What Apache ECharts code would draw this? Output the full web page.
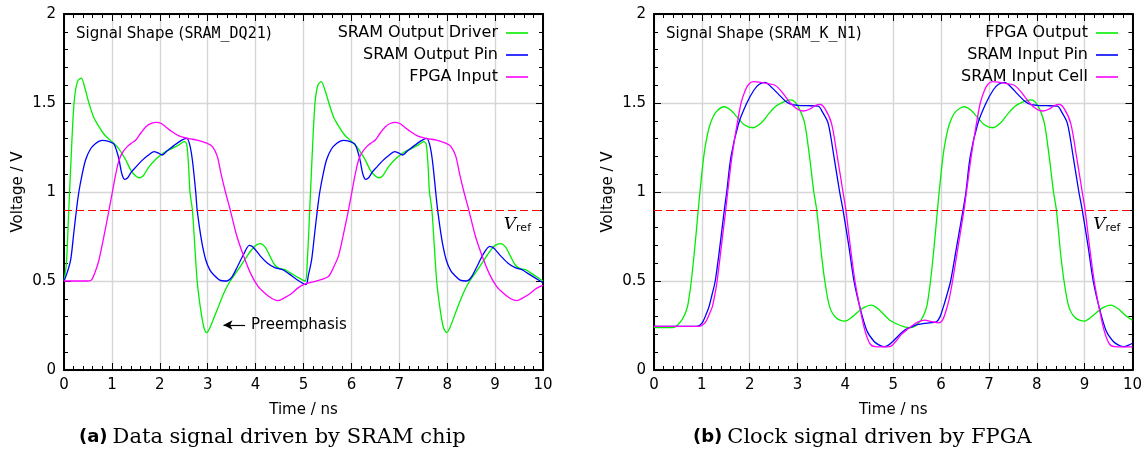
<!DOCTYPE html>
<html><head><meta charset="utf-8">
<script src="https://cdn.jsdelivr.net/npm/echarts@6/dist/echarts.min.js"></script>
<style>html,body{margin:0;padding:0;background:#fff}#c{width:1145px;height:460px}</style>
</head><body><div id="c"></div>
<script>
// ---------- DATA ----------
const xTickLabels = ['0','1','2','3','4','5','6','7','8','9','10'];
const yTickLabels = ['0','0.5','1','1.5','2'];
const vref = 0.9;
const preemphasisArrow = [[3.78, 0.253], [3.33, 0.253]];

// (a) Data signal driven by SRAM chip  [time ns, voltage V]
const sramOutputDriver = [
[0,0.5],[0.05,0.6],[0.1,0.9],[0.15,1.2],[0.21,1.5],[0.28,1.62],[0.36,1.64],[0.44,1.58],[0.52,1.5],[0.62,1.42],[0.73,1.367],[0.85,1.32],[0.97,1.29],[1.11,1.255],[1.2,1.22],[1.29,1.18],[1.4,1.12],[1.5,1.09],[1.57,1.08],[1.65,1.09],[1.77,1.14],[1.9,1.18],[2.02,1.208],[2.14,1.23],[2.26,1.245],[2.4,1.265],[2.51,1.283],[2.56,1.27],[2.6,1.15],[2.63,1.0],[2.68,0.9],[2.73,0.7],[2.78,0.5],[2.85,0.346],[2.92,0.24],[2.98,0.21],[3.05,0.24],[3.2,0.34],[3.35,0.44],[3.47,0.5],[3.6,0.55],[3.75,0.61],[3.9,0.67],[4.0,0.70],[4.1,0.71],[4.2,0.69],[4.3,0.64],[4.4,0.59],[4.5,0.57],[4.6,0.565],[4.7,0.55],[4.85,0.525],[5.03,0.5],
[5.08,0.62],[5.13,0.9],[5.18,1.2],[5.24,1.5],[5.3,1.6],[5.37,1.62],[5.45,1.57],[5.53,1.5],[5.63,1.42],[5.74,1.367],[5.86,1.32],[5.98,1.29],[6.11,1.255],[6.2,1.22],[6.29,1.18],[6.4,1.12],[6.5,1.09],[6.57,1.08],[6.65,1.09],[6.77,1.14],[6.9,1.18],[7.02,1.208],[7.14,1.23],[7.26,1.245],[7.4,1.265],[7.51,1.283],[7.56,1.27],[7.6,1.15],[7.63,1.0],[7.68,0.9],[7.73,0.7],[7.78,0.5],[7.85,0.346],[7.92,0.24],[7.99,0.21],[8.06,0.24],[8.2,0.34],[8.35,0.44],[8.47,0.5],[8.6,0.55],[8.75,0.61],[8.9,0.67],[9.0,0.70],[9.12,0.71],[9.22,0.69],[9.32,0.64],[9.42,0.59],[9.52,0.57],[9.62,0.565],[9.72,0.55],[9.86,0.525],[10,0.5]];
const sramOutputPin = [
[0,0.5],[0.07,0.55],[0.14,0.62],[0.2,0.76],[0.26,0.9],[0.31,1.0],[0.38,1.1],[0.45,1.18],[0.55,1.24],[0.66,1.273],[0.8,1.29],[0.93,1.285],[1.04,1.27],[1.1,1.23],[1.15,1.18],[1.21,1.1],[1.27,1.071],[1.33,1.08],[1.4,1.11],[1.5,1.14],[1.62,1.175],[1.75,1.205],[1.88,1.227],[1.96,1.22],[2.05,1.208],[2.15,1.23],[2.3,1.262],[2.45,1.29],[2.56,1.301],[2.62,1.27],[2.68,1.18],[2.75,1.0],[2.78,0.9],[2.87,0.73],[2.96,0.618],[3.05,0.56],[3.13,0.534],[3.25,0.505],[3.4,0.5],[3.5,0.52],[3.62,0.58],[3.75,0.65],[3.87,0.70],[3.95,0.69],[4.1,0.64],[4.25,0.6],[4.4,0.575],[4.55,0.565],[4.7,0.54],[4.85,0.51],[5.05,0.48],
[5.1,0.53],[5.17,0.62],[5.23,0.76],[5.29,0.9],[5.34,1.0],[5.41,1.1],[5.48,1.18],[5.58,1.24],[5.69,1.273],[5.83,1.29],[5.96,1.285],[6.07,1.27],[6.13,1.23],[6.18,1.18],[6.24,1.1],[6.3,1.071],[6.36,1.08],[6.43,1.11],[6.53,1.14],[6.65,1.175],[6.78,1.205],[6.9,1.227],[6.98,1.22],[7.07,1.208],[7.17,1.23],[7.32,1.262],[7.47,1.29],[7.57,1.301],[7.63,1.27],[7.69,1.18],[7.76,1.0],[7.8,0.9],[7.89,0.73],[7.98,0.618],[8.07,0.56],[8.15,0.534],[8.27,0.505],[8.41,0.5],[8.5,0.52],[8.62,0.58],[8.75,0.65],[8.89,0.695],[8.97,0.685],[9.12,0.64],[9.27,0.6],[9.42,0.575],[9.55,0.565],[9.7,0.54],[9.85,0.515],[10,0.49]];
const fpgaInput = [
[0,0.5],[0.3,0.5],[0.5,0.5],[0.57,0.505],[0.65,0.55],[0.73,0.618],[0.84,0.76],[0.94,0.9],[1.01,1.0],[1.08,1.1],[1.15,1.18],[1.23,1.225],[1.32,1.255],[1.41,1.275],[1.5,1.292],[1.6,1.33],[1.71,1.367],[1.82,1.385],[1.93,1.391],[2.03,1.385],[2.12,1.367],[2.25,1.34],[2.4,1.315],[2.6,1.3],[2.78,1.292],[2.99,1.273],[3.1,1.255],[3.2,1.2],[3.28,1.1],[3.37,1.0],[3.47,0.9],[3.6,0.76],[3.75,0.64],[3.9,0.54],[4.05,0.47],[4.2,0.43],[4.35,0.4],[4.47,0.39],[4.6,0.405],[4.75,0.43],[4.88,0.46],[5.0,0.48],[5.2,0.495],[5.4,0.51],[5.52,0.525],
[5.58,0.55],[5.65,0.59],[5.73,0.64],[5.84,0.77],[5.94,0.9],[6.01,1.0],[6.08,1.1],[6.15,1.18],[6.23,1.225],[6.32,1.255],[6.41,1.275],[6.5,1.292],[6.6,1.33],[6.71,1.367],[6.81,1.385],[6.91,1.391],[7.01,1.385],[7.1,1.367],[7.23,1.34],[7.38,1.315],[7.58,1.3],[7.78,1.292],[7.98,1.273],[8.08,1.255],[8.18,1.2],[8.26,1.1],[8.35,1.0],[8.45,0.9],[8.58,0.76],[8.73,0.64],[8.88,0.54],[9.03,0.47],[9.18,0.43],[9.33,0.4],[9.45,0.39],[9.58,0.405],[9.73,0.43],[9.87,0.46],[10,0.475]];

// (b) Clock signal driven by FPGA
const fpgaOutput = [
[0,0.24],[0.2,0.238],[0.42,0.24],[0.5,0.255],[0.58,0.28],[0.64,0.31],[0.7,0.356],[0.74,0.42],[0.78,0.5],[0.85,0.68],[0.925,0.9],[0.96,1.0],[1.04,1.2],[1.1,1.3],[1.18,1.386],[1.3,1.45],[1.475,1.479],[1.6,1.46],[1.74,1.42],[1.9,1.375],[2.07,1.361],[2.25,1.39],[2.4,1.44],[2.54,1.48],[2.7,1.505],[2.85,1.517],[2.95,1.505],[3.05,1.46],[3.15,1.386],[3.25,1.2],[3.34,1.0],[3.4,0.9],[3.5,0.65],[3.57,0.5],[3.67,0.356],[3.8,0.295],[3.99,0.275],[4.15,0.3],[4.35,0.345],[4.54,0.365],[4.7,0.34],[4.93,0.28],[5.15,0.25],[5.34,0.238],
[5.45,0.245],[5.52,0.262],[5.58,0.28],[5.64,0.31],[5.7,0.356],[5.74,0.42],[5.78,0.5],[5.85,0.68],[5.925,0.9],[5.96,1.0],[6.04,1.2],[6.1,1.3],[6.18,1.386],[6.3,1.45],[6.49,1.479],[6.62,1.46],[6.76,1.42],[6.92,1.375],[7.08,1.361],[7.25,1.39],[7.4,1.44],[7.54,1.48],[7.7,1.505],[7.88,1.517],[7.97,1.505],[8.07,1.46],[8.16,1.386],[8.26,1.2],[8.35,1.0],[8.41,0.9],[8.5,0.65],[8.57,0.5],[8.67,0.356],[8.8,0.295],[9.0,0.275],[9.15,0.3],[9.35,0.345],[9.55,0.365],[9.72,0.34],[9.88,0.3],[10,0.28]];
const sramInputPin = [
[0,0.245],[0.5,0.245],[0.87,0.245],[0.95,0.25],[1.02,0.27],[1.1,0.32],[1.15,0.356],[1.21,0.42],[1.28,0.5],[1.38,0.7],[1.47,0.9],[1.52,1.0],[1.61,1.2],[1.77,1.386],[1.94,1.5],[2.09,1.573],[2.2,1.605],[2.32,1.616],[2.45,1.59],[2.6,1.55],[2.75,1.51],[2.87,1.492],[3.0,1.487],[3.2,1.485],[3.43,1.483],[3.52,1.45],[3.64,1.386],[3.76,1.2],[3.88,1.0],[3.95,0.9],[4.07,0.7],[4.18,0.5],[4.3,0.356],[4.45,0.22],[4.6,0.16],[4.72,0.138],[4.82,0.131],[4.95,0.15],[5.1,0.19],[5.24,0.225],[5.36,0.24],[5.48,0.253],[5.62,0.26],[5.76,0.265],[5.9,0.27],
[5.98,0.3],[6.05,0.356],[6.12,0.42],[6.2,0.5],[6.33,0.7],[6.46,0.9],[6.52,1.0],[6.61,1.2],[6.77,1.386],[6.94,1.5],[7.09,1.573],[7.2,1.605],[7.33,1.616],[7.46,1.59],[7.6,1.55],[7.75,1.51],[7.87,1.492],[8.0,1.487],[8.2,1.485],[8.43,1.483],[8.52,1.45],[8.64,1.386],[8.76,1.2],[8.88,1.0],[8.95,0.9],[9.07,0.7],[9.18,0.5],[9.3,0.356],[9.45,0.22],[9.6,0.16],[9.72,0.138],[9.82,0.131],[9.92,0.14],[10,0.15]];
const sramInputCell = [
[0,0.245],[0.5,0.245],[0.93,0.245],[1.0,0.25],[1.08,0.27],[1.15,0.31],[1.22,0.356],[1.27,0.42],[1.32,0.5],[1.41,0.7],[1.5,0.9],[1.54,1.0],[1.63,1.2],[1.74,1.386],[1.82,1.5],[1.91,1.573],[1.98,1.605],[2.07,1.62],[2.2,1.617],[2.35,1.61],[2.53,1.6],[2.68,1.56],[2.85,1.5],[3.0,1.465],[3.12,1.455],[3.25,1.465],[3.37,1.485],[3.47,1.492],[3.57,1.47],[3.71,1.386],[3.83,1.2],[3.95,1.0],[4.01,0.9],[4.1,0.7],[4.2,0.5],[4.3,0.356],[4.4,0.23],[4.51,0.15],[4.62,0.131],[4.8,0.13],[4.93,0.131],[5.05,0.16],[5.17,0.2],[5.28,0.225],[5.4,0.25],[5.52,0.27],[5.66,0.28],[5.8,0.272],[5.95,0.265],
[6.03,0.28],[6.1,0.33],[6.17,0.4],[6.24,0.5],[6.36,0.7],[6.48,0.9],[6.53,1.0],[6.63,1.2],[6.74,1.386],[6.82,1.5],[6.91,1.573],[6.98,1.605],[7.07,1.62],[7.2,1.617],[7.35,1.61],[7.53,1.6],[7.68,1.56],[7.85,1.5],[8.0,1.465],[8.12,1.455],[8.25,1.465],[8.37,1.485],[8.47,1.492],[8.57,1.47],[8.71,1.386],[8.83,1.2],[8.95,1.0],[9.01,0.9],[9.1,0.7],[9.2,0.5],[9.3,0.356],[9.4,0.23],[9.51,0.15],[9.62,0.131],[9.8,0.13],[10,0.13]];

// ---------- STYLE / BUILD ----------
const SANS = 'DejaVu Sans';
const GREEN = '#00ee00', BLUE = '#0000ff', MAGENTA = '#ff00ff';
const grids = [
  {left: 64, top: 14, width: 479, height: 356},
  {left: 654, top: 14, width: 479, height: 356}
];
const fmtX = v => xTickLabels[Math.round(v)] ?? String(v);
const fmtY = v => yTickLabels[Math.round(v * 2)] ?? String(v);

function xAx(g, pos) {
  const main = pos === 'bottom';
  return {
    type: 'value', gridIndex: g, position: pos, min: 0, max: 10, interval: 1,
    axisLine: {onZero: false, lineStyle: {color: '#000', width: 2}},
    axisTick: {inside: true, length: 7, lineStyle: {color: '#000', width: 1}},
    minorTick: {show: true, splitNumber: 5, length: 4, lineStyle: {color: '#000', width: 1}},
    axisLabel: {show: main, formatter: fmtX, color: '#000', fontFamily: SANS, fontSize: 15, margin: 8},
    splitLine: {show: main, lineStyle: {color: '#d6d6d6', width: 1.4}},
    name: main ? 'Time / ns' : '', nameLocation: 'middle', nameGap: 33,
    nameTextStyle: {color: '#000', fontFamily: SANS, fontSize: 15}
  };
}
function yAx(g, pos) {
  const main = pos === 'left';
  return {
    type: 'value', gridIndex: g, position: pos, min: 0, max: 2, interval: 0.5,
    axisLine: {onZero: false, lineStyle: {color: '#000', width: 2}},
    axisTick: {inside: true, length: 7, lineStyle: {color: '#000', width: 1}},
    minorTick: {show: true, splitNumber: 5, length: 4, lineStyle: {color: '#000', width: 1}},
    axisLabel: {show: main, formatter: fmtY, color: '#000', fontFamily: SANS, fontSize: 15, margin: 8},
    splitLine: {show: main, lineStyle: {color: '#d6d6d6', width: 1.4}},
    name: main ? 'Voltage / V' : '', nameLocation: 'middle', nameGap: 38,
    nameTextStyle: {color: '#000', fontFamily: SANS, fontSize: 15}
  };
}

const vrefLine = {
  yAxis: vref,
  lineStyle: {color: '#ff0000', type: [8, 4], width: 1.2},
  label: {
    show: true, position: 'insideEndBottom', distance: [12, 6],
    formatter: '{v|V}{r|ref}',
    rich: {
      v: {fontFamily: 'DejaVu Serif', fontStyle: 'italic', fontSize: 17, color: '#000'},
      r: {fontFamily: SANS, fontSize: 11, color: '#000', padding: [7, 0, 0, 0]}
    }
  }
};

function line(name, data, color, xi, yi, markLine) {
  const s = {
    name, type: 'line', data, xAxisIndex: xi, yAxisIndex: yi,
    showSymbol: false, symbol: 'none', smooth: 0.3,
    lineStyle: {color, width: 1.3}, itemStyle: {color}, animation: false, z: 3
  };
  if (markLine) s.markLine = markLine;
  return s;
}

const markA = {
  silent: true, symbol: 'none', animation: false,
  data: [
    vrefLine,
    [{coord: preemphasisArrow[0], symbol: 'none',
      lineStyle: {color: '#000', type: 'solid', width: 1.2},
      label: {show: true, position: 'start', distance: 6, formatter: 'Preemphasis',
              color: '#000', fontFamily: SANS, fontSize: 15}},
     {coord: preemphasisArrow[1], symbol: 'arrow', symbolSize: [7, 9]}]
  ]
};
const markB = {silent: true, symbol: 'none', animation: false, data: [vrefLine]};

function legendItem(name, right, top) {
  return {
    data: [{name, icon: 'rect'}], right, top, orient: 'vertical', align: 'right', padding: 0,
    itemWidth: 22, itemHeight: 1.6, itemGap: 0,
    textStyle: {color: '#000', fontFamily: SANS, fontSize: 16, padding: [0, 3, 0, 0]},
    selectedMode: false
  };
}

const plain = (o) => Object.assign({fontWeight: 'normal', color: '#000'}, o);

const option = {
  backgroundColor: '#fff',
  animation: false,
  grid: grids,
  xAxis: [xAx(0, 'bottom'), xAx(0, 'top'), xAx(1, 'bottom'), xAx(1, 'top')],
  yAxis: [yAx(0, 'left'), yAx(0, 'right'), yAx(1, 'left'), yAx(1, 'right')],
  legend: [
    legendItem('SRAM Output Driver', 617, 25),
    legendItem('SRAM Output Pin', 617, 47),
    legendItem('FPGA Input', 617, 69),
    legendItem('FPGA Output', 27, 25),
    legendItem('SRAM Input Pin', 27, 47),
    legendItem('SRAM Input Cell', 27, 69)
  ],
  title: [
    {text: '{a|Signal Shape (}{m|SRAM_DQ21}{a|)}', left: 76, top: 27, padding: 0,
     textStyle: {fontWeight: 'normal', rich: {a: plain({fontFamily: SANS, fontSize: 15}),
                        m: plain({fontFamily: 'DejaVu Sans Mono', fontSize: 15})}}},
    {text: '{a|Signal Shape (}{m|SRAM_K_N1}{a|)}', left: 666, top: 27, padding: 0,
     textStyle: {fontWeight: 'normal', rich: {a: plain({fontFamily: SANS, fontSize: 15}),
                        m: plain({fontFamily: 'DejaVu Sans Mono', fontSize: 15})}}},
    {text: '{b|(a)} {s|Data signal driven by SRAM chip}', left: 79, top: 427, padding: 0,
     textStyle: {fontWeight: 'normal', rich: {b: {fontFamily: SANS, fontWeight: 'bold', fontSize: 18, color: '#000'},
                        s: plain({fontFamily: 'DejaVu Serif', fontSize: 21})}}},
    {text: '{b|(b)} {s|Clock signal driven by FPGA}', left: 693, top: 427, padding: 0,
     textStyle: {fontWeight: 'normal', rich: {b: {fontFamily: SANS, fontWeight: 'bold', fontSize: 18, color: '#000'},
                        s: plain({fontFamily: 'DejaVu Serif', fontSize: 21})}}}
  ],
  series: [
    line('SRAM Output Driver', sramOutputDriver, GREEN, 0, 0, markA),
    line('SRAM Output Pin', sramOutputPin, BLUE, 0, 0),
    line('FPGA Input', fpgaInput, MAGENTA, 0, 0),
    line('FPGA Output', fpgaOutput, GREEN, 2, 2, markB),
    line('SRAM Input Pin', sramInputPin, BLUE, 2, 2),
    line('SRAM Input Cell', sramInputCell, MAGENTA, 2, 2)
  ]
};
const chart = echarts.init(document.getElementById('c'), null, {renderer: 'canvas'});
chart.setOption(option);
</script></body></html>
